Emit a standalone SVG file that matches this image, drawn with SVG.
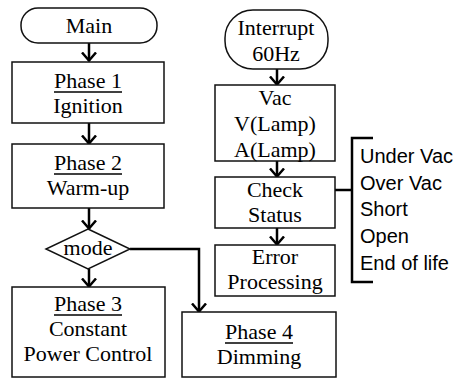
<svg xmlns="http://www.w3.org/2000/svg" width="460" height="379" viewBox="0 0 460 379">
<style>
.box{fill:#fff;stroke:#111;stroke-width:1.5}
.t{font-family:"Liberation Serif","Times New Roman",serif;font-size:22px;fill:#000;text-anchor:middle}
.s{font-family:"Liberation Sans",Arial,sans-serif;font-size:20px;fill:#000}
.c{fill:none;stroke:#000;stroke-width:2.5}
.u{stroke:#000;stroke-width:1.3}
</style>
<defs>
<marker id="ah" markerUnits="userSpaceOnUse" markerWidth="10" markerHeight="16" viewBox="0 0 10 16" refX="9.5" refY="8" orient="auto">
<path d="M1,1 L9,8 L1,15" fill="none" stroke="#000" stroke-width="2.5"/>
</marker>
</defs>
<rect width="460" height="379" fill="#fff"/>
<g id="connectors">
<line class="c" x1="89" y1="43" x2="89" y2="61" marker-end="url(#ah)"/>
<line class="c" x1="89" y1="123" x2="89" y2="144" marker-end="url(#ah)"/>
<line class="c" x1="89" y1="208" x2="89" y2="229" marker-end="url(#ah)"/>
<line class="c" x1="89" y1="269" x2="89" y2="287" marker-end="url(#ah)"/>
<polyline class="c" points="130,249 199,249 199,312" marker-end="url(#ah)"/>
<line class="c" x1="277" y1="69" x2="277" y2="85" marker-end="url(#ah)"/>
<line class="c" x1="277" y1="161" x2="277" y2="177" marker-end="url(#ah)"/>
<line class="c" x1="277" y1="228" x2="277" y2="245" marker-end="url(#ah)"/>
<polyline class="c" points="335,190 352,190"/>
<polyline class="c" points="373,138 352,138 352,282 373,282"/>
</g>
<g id="main">
<rect class="box" x="21" y="8" width="136" height="35" rx="17" ry="17"/>
<text class="t" x="89" y="33">Main</text>
</g>
<g id="phase1">
<rect class="box" x="12" y="62" width="152" height="61"/>
<text class="t" x="88" y="88">Phase 1</text>
<line class="u" x1="54" y1="92" x2="122" y2="92"/>
<text class="t" x="88" y="113">Ignition</text>
</g>
<g id="phase2">
<rect class="box" x="12" y="144" width="152" height="64"/>
<text class="t" x="88" y="170">Phase 2</text>
<line class="u" x1="54" y1="174" x2="122" y2="174"/>
<text class="t" x="88" y="195">Warm-up</text>
</g>
<g id="mode">
<polygon class="box" points="88,229 130,249 88,269 46,249"/>
<text class="t" x="88" y="255">mode</text>
</g>
<g id="phase3">
<rect class="box" x="12" y="287" width="153" height="90"/>
<text class="t" x="88" y="311">Phase 3</text>
<line class="u" x1="54" y1="315" x2="122" y2="315"/>
<text class="t" x="88" y="336">Constant</text>
<text class="t" x="88" y="361">Power Control</text>
</g>
<g id="phase4">
<rect class="box" x="182" y="312" width="154" height="65"/>
<text class="t" x="259" y="339">Phase 4</text>
<line class="u" x1="225" y1="343" x2="293" y2="343"/>
<text class="t" x="259" y="364">Dimming</text>
</g>
<g id="interrupt">
<rect class="box" x="225" y="10" width="103" height="59" rx="28" ry="28"/>
<text class="t" x="276" y="35">Interrupt</text>
<text class="t" x="276" y="61">60Hz</text>
</g>
<g id="measure">
<rect class="box" x="215" y="85" width="120" height="76"/>
<text class="t" x="275" y="105">Vac</text>
<text class="t" x="275" y="131">V(Lamp)</text>
<text class="t" x="275" y="157">A(Lamp)</text>
</g>
<g id="check">
<rect class="box" x="215" y="177" width="120" height="51"/>
<text class="t" x="275" y="197">Check</text>
<text class="t" x="275" y="222">Status</text>
</g>
<g id="error">
<rect class="box" x="215" y="245" width="120" height="51"/>
<text class="t" x="275" y="264">Error</text>
<text class="t" x="275" y="289">Processing</text>
</g>
<g id="status-list">
<text class="s" x="360" y="163">Under Vac</text>
<text class="s" x="360" y="190">Over Vac</text>
<text class="s" x="360" y="216">Short</text>
<text class="s" x="360" y="243">Open</text>
<text class="s" x="360" y="270">End of life</text>
</g>
</svg>
